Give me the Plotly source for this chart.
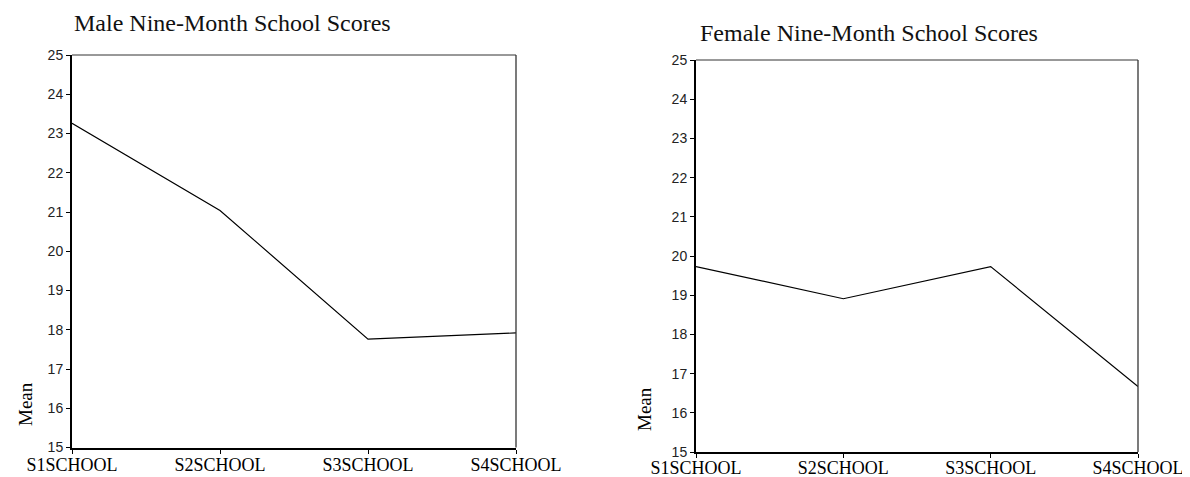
import plotly.graph_objects as go

categories = ["S1SCHOOL", "S2SCHOOL", "S3SCHOOL", "S4SCHOOL"]
male_means = [23.26, 21.04, 17.76, 17.92]
female_means = [19.73, 18.91, 19.73, 16.67]
y_ticks = list(range(15, 26))
titles = ["Male Nine-Month School Scores", "Female Nine-Month School Scores"]
y_label = "Mean"

# page body has an 8px margin; figure is sized to fit the 1190x477 window
OFF = 8
W, H = 1190 - OFF, 477 - OFF

def px_x(X):
    return (X - OFF) / W

def px_y(Y):
    return (H - (Y - OFF)) / H

fig = go.Figure()

fig.add_trace(go.Scatter(x=categories, y=male_means, mode="lines",
                         line=dict(color="black", width=1.2), xaxis="x", yaxis="y",
                         showlegend=False, hoverinfo="x+y"))
fig.add_trace(go.Scatter(x=categories, y=female_means, mode="lines",
                         line=dict(color="black", width=1.2), xaxis="x2", yaxis="y2",
                         showlegend=False, hoverinfo="x+y"))

serif = "Liberation Serif, Times New Roman, serif"
sans = "Liberation Sans, Arial, sans-serif"

def xax(domain, anchor, standoff):
    return dict(domain=domain, anchor=anchor, type="category", range=[0, 3],
                categoryorder="array", categoryarray=categories,
                showline=True, linecolor="black", linewidth=2, mirror=False,
                ticks="outside", ticklen=4, tickcolor="black", tickwidth=1,
                ticklabelstandoff=standoff,
                showgrid=False, zeroline=False, automargin=False,
                tickfont=dict(family=serif, size=18, color="black"))

def yax(domain, anchor):
    return dict(domain=domain, anchor=anchor, range=[15, 25],
                tickvals=y_ticks, ticktext=[str(v) for v in y_ticks],
                showline=True, linecolor="black", linewidth=2, mirror=False,
                ticks="outside", ticklen=4, tickcolor="black", tickwidth=1,
                showgrid=False, zeroline=False, automargin=False,
                tickfont=dict(family=sans, size=14, color="#222"))

left_x = [px_x(72), px_x(516)]
left_y = [px_y(447.5), px_y(55)]
right_x = [px_x(696), px_x(1138)]
right_y = [px_y(452), px_y(60)]

shapes = []
for xr, yr in [("x", "y"), ("x2", "y2")]:
    shapes.append(dict(type="line", xref=f"{xr} domain", yref=f"{yr} domain",
                       x0=0, x1=1, y0=1, y1=1, line=dict(color="#333", width=1)))
    shapes.append(dict(type="line", xref=f"{xr} domain", yref=f"{yr} domain",
                       x0=1, x1=1, y0=0, y1=1, line=dict(color="#333", width=1.3)))

annotations = [
    dict(text=titles[0], xref="paper", yref="paper", x=px_x(72), y=px_y(23),
         xanchor="left", yanchor="middle", showarrow=False,
         font=dict(family=serif, size=24, color="#111")),
    dict(text=titles[1], xref="paper", yref="paper", x=px_x(698), y=px_y(33),
         xanchor="left", yanchor="middle", showarrow=False,
         font=dict(family=serif, size=24, color="#111")),
    dict(text=y_label, xref="paper", yref="paper", x=px_x(25), y=px_y(404),
         xanchor="center", yanchor="middle", showarrow=False, textangle=-90,
         font=dict(family=serif, size=19, color="black")),
    dict(text=y_label, xref="paper", yref="paper", x=px_x(644), y=px_y(409),
         xanchor="center", yanchor="middle", showarrow=False, textangle=-90,
         font=dict(family=serif, size=19, color="black")),
]

fig.update_layout(
    width=W, height=H,
    margin=dict(l=0, r=0, t=0, b=0, autoexpand=False),
    paper_bgcolor="white", plot_bgcolor="white",
    xaxis=xax(left_x, "y", -4), yaxis=yax(left_y, "x"),
    xaxis2=xax(right_x, "y2", -6), yaxis2=yax(right_y, "x2"),
    shapes=shapes, annotations=annotations,
)

fig.write_html("out.html")
